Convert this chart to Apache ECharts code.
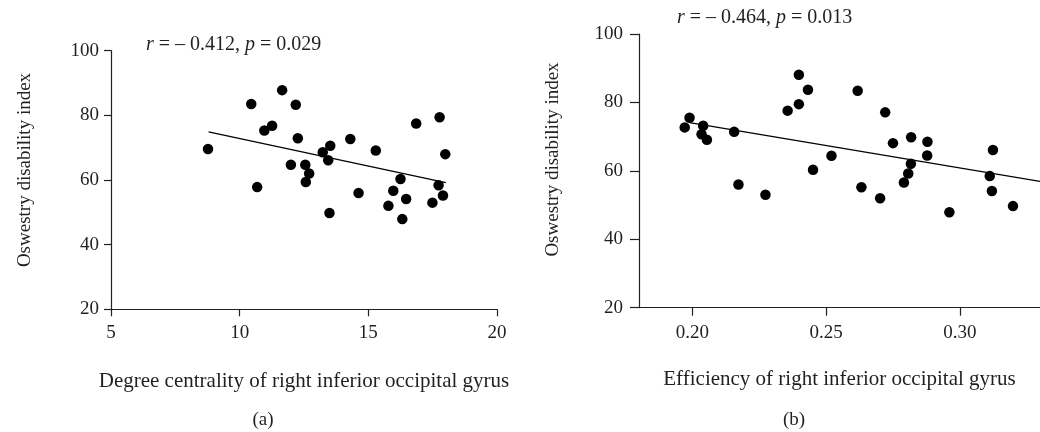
<!DOCTYPE html>
<html>
<head>
<meta charset="utf-8">
<script src="https://cdn.jsdelivr.net/npm/echarts@6/dist/echarts.min.js"></script>
<style>html,body{margin:0;padding:0;background:#fff;}#c{width:1040px;height:432px;}</style>
</head>
<body>
<div id="c"></div>
<script>
// Panel (a): degree centrality vs ODI
const degreeX = [8.77,10.45,10.68,10.96,11.26,11.65,12.18,11.99,12.26,12.55,12.70,12.57,13.23,13.52,13.44,13.49,14.30,14.62,15.29,15.78,15.97,16.25,16.47,16.32,16.86,17.49,17.73,17.77,17.90,17.99];
const degreeY = [69.6,83.5,57.8,75.3,76.8,87.8,83.3,64.7,72.9,64.7,62.0,59.4,68.6,70.6,66.1,49.8,72.7,56.0,69.1,52.0,56.7,60.3,54.1,47.9,77.5,53.0,58.4,79.4,55.2,68.0];
const fitAX = [8.79, 18.01];
const fitAY = [74.9, 59.2];
// Panel (b): efficiency vs ODI
const effX = [0.1971,0.1989,0.2040,0.2034,0.2054,0.2156,0.2172,0.2273,0.2356,0.2398,0.2398,0.2432,0.2451,0.2520,0.2618,0.2632,0.2702,0.2721,0.2750,0.2791,0.2807,0.2817,0.2818,0.2879,0.2878,0.2961,0.3112,0.3124,0.3120,0.3199];
const effY = [72.7,75.5,73.2,70.7,69.1,71.4,56.0,53.0,77.6,88.1,79.5,83.7,60.3,64.4,83.4,55.2,52.0,77.1,68.1,56.6,59.2,62.1,69.8,68.5,64.5,47.9,58.5,66.1,54.1,49.7];
const fitBX = [0.1989, 0.33];
const fitBY = [74.1, 56.9];
const effTicks = [0.20, 0.25, 0.30];
const yName = 'Oswestry disability index';

const FONT = 'Liberation Serif';
const INK = '#231f20';
const TICK_FS = 19;
const NAME_FS = 21;
const zip = (a, b) => a.map((v, i) => [v, b[i]]);

const axisCommon = {
  axisLine: { show: true, onZero: false, lineStyle: { color: INK, width: 1.2 } },
  splitLine: { show: false },
  nameTextStyle: { fontFamily: FONT, fontSize: NAME_FS, color: INK },
};

const chart = echarts.init(document.getElementById('c'));
chart.setOption({
  animation: false,
  backgroundColor: '#fff',
  grid: [
    { left: 111, top: 50.7, width: 386, height: 258.6 },
    { left: 639, top: 34, width: 409.7, height: 273.7 }
  ],
  xAxis: [
    Object.assign({}, axisCommon, {
      gridIndex: 0, type: 'value', min: 5, max: 20, interval: 5,
      name: 'Degree centrality of right inferior occipital gyrus', nameLocation: 'middle', nameGap: 62,
      axisTick: { show: true, inside: false, length: 7, lineStyle: { color: INK, width: 1.2 } },
      axisLabel: { fontFamily: FONT, fontSize: TICK_FS, color: INK, margin: 14 }
    }),
    Object.assign({}, axisCommon, {
      gridIndex: 1, type: 'value', min: 0.18, max: 0.33,
      name: 'Efficiency of right inferior occipital gyrus', nameLocation: 'middle', nameGap: 61,
      axisTick: { show: true, inside: false, length: 8, customValues: effTicks, lineStyle: { color: INK, width: 1.2 } },
      axisLabel: { fontFamily: FONT, fontSize: TICK_FS, color: INK, margin: 16, customValues: effTicks, formatter: v => v.toFixed(2) }
    })
  ],
  yAxis: [
    Object.assign({}, axisCommon, {
      gridIndex: 0, type: 'value', min: 20, max: 100, interval: 20,
      axisTick: { show: true, inside: false, length: 7, lineStyle: { color: INK, width: 1.2 } },
      axisLabel: { fontFamily: FONT, fontSize: TICK_FS, color: INK, margin: 12 }
    }),
    Object.assign({}, axisCommon, {
      gridIndex: 1, type: 'value', min: 20, max: 100, interval: 20,
      axisTick: { show: true, inside: false, length: 9, lineStyle: { color: INK, width: 1.2 } },
      axisLabel: { fontFamily: FONT, fontSize: TICK_FS, color: INK, margin: 16 }
    })
  ],
  series: [
    { type: 'scatter', xAxisIndex: 0, yAxisIndex: 0, data: zip(degreeX, degreeY), symbolSize: 10.5, itemStyle: { color: '#000', opacity: 1 } },
    { type: 'line', xAxisIndex: 0, yAxisIndex: 0, data: zip(fitAX, fitAY), symbol: 'none', lineStyle: { color: '#000', width: 1.3 } },
    { type: 'scatter', xAxisIndex: 1, yAxisIndex: 1, data: zip(effX, effY), symbolSize: 10.5, itemStyle: { color: '#000', opacity: 1 } },
    { type: 'line', xAxisIndex: 1, yAxisIndex: 1, data: zip(fitBX, fitBY), symbol: 'none', lineStyle: { color: '#000', width: 1.3 } }
  ],
  graphic: [
    { type: 'text', x: 25, y: 170, rotation: Math.PI / 2, style: { text: yName, fontFamily: FONT, fontSize: 19, fill: INK, align: 'center', verticalAlign: 'middle' } },
    { type: 'text', x: 553, y: 159.5, rotation: Math.PI / 2, style: { text: yName, fontFamily: FONT, fontSize: 19, fill: INK, align: 'center', verticalAlign: 'middle' } },
    { type: 'text', left: 146, top: 35, style: { text: '{i|r} = – 0.412, {i|p} = 0.029', fontFamily: FONT, fontSize: 20, fill: INK,
      rich: { i: { fontFamily: FONT, fontStyle: 'italic', fontSize: 20, fill: INK } } } },
    { type: 'text', left: 677, top: 8, style: { text: '{i|r} = – 0.464, {i|p} = 0.013', fontFamily: FONT, fontSize: 20, fill: INK,
      rich: { i: { fontFamily: FONT, fontStyle: 'italic', fontSize: 20, fill: INK } } } },
    { type: 'text', x: 263, y: 420, style: { text: '(a)', fontFamily: FONT, fontSize: 19, fill: INK, align: 'center', verticalAlign: 'middle' } },
    { type: 'text', x: 794, y: 420, style: { text: '(b)', fontFamily: FONT, fontSize: 19, fill: INK, align: 'center', verticalAlign: 'middle' } }
  ]
});
</script>
</body>
</html>
